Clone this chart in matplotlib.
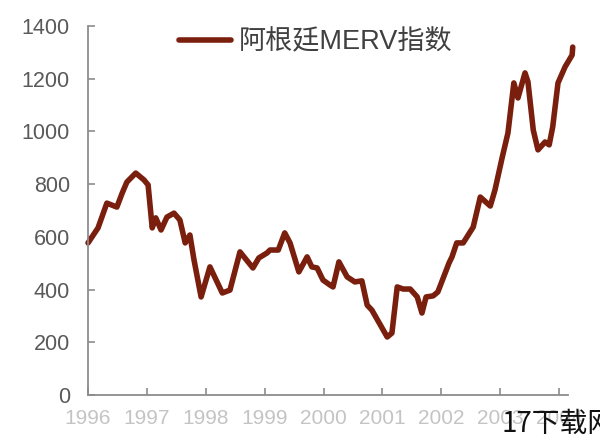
import matplotlib.pyplot as plt

plt.rcParams["font.family"] = ["Liberation Sans", "Noto Sans CJK SC", "DejaVu Sans"]

# ── Data ──────────────────────────────────────────────────────────────────────
years = [
    1996.00, 1996.17, 1996.32, 1996.49, 1996.58, 1996.66, 1996.81, 1996.95,
    1997.02, 1997.09, 1997.15, 1997.24, 1997.34, 1997.46, 1997.56, 1997.65,
    1997.73, 1997.80, 1997.92, 1998.07, 1998.28, 1998.41, 1998.58, 1998.80,
    1998.90, 1999.04, 1999.09, 1999.23, 1999.34, 1999.43, 1999.58, 1999.72,
    1999.80, 1999.89, 1999.99, 2000.11, 2000.16, 2000.26, 2000.40, 2000.53,
    2000.65, 2000.74, 2000.82, 2001.08, 2001.16, 2001.25, 2001.35, 2001.47,
    2001.59, 2001.67, 2001.74, 2001.86, 2001.94, 2002.13, 2002.18, 2002.26,
    2002.37, 2002.54, 2002.66, 2002.83, 2002.91, 2003.03, 2003.13, 2003.23,
    2003.30, 2003.42, 2003.47, 2003.56, 2003.64, 2003.76, 2003.83, 2003.89,
    2003.98, 2004.10, 2004.22, 2004.23,
]
merv = [
    577, 634, 728, 713, 766, 808, 842, 816,
    797, 634, 672, 626, 675, 690, 664, 577,
    607, 512, 372, 486, 387, 398, 543, 482,
    520, 539, 550, 550, 615, 577, 467, 524,
    486, 482, 436, 417, 410, 505, 448, 429,
    433, 341, 322, 220, 235, 410, 402, 402,
    372, 311, 372, 376, 391, 501, 524, 577,
    577, 637, 751, 717, 778, 899, 994, 1184,
    1127, 1222, 1188, 1005, 930, 960, 949, 1017,
    1184, 1245, 1290, 1320,
]
xticks = [1996, 1997, 1998, 1999, 2000, 2001, 2002, 2003, 2004]
yticks = [0, 200, 400, 600, 800, 1000, 1200, 1400]

LINE = "#7a1f0e"

fig = plt.figure(figsize=(6, 4.4), dpi=100)
ax = fig.add_axes([0.1467, 0.1023, 0.80, 0.8386])

ax.plot(years, merv, color=LINE, lw=4.0, solid_joinstyle="round",
        solid_capstyle="round", clip_on=False, label="阿根廷MERV指数")

ax.set_xlim(1996, 2004.15)
ax.set_ylim(0, 1400)
ax.set_xticks(xticks)
ax.set_yticks(yticks)
ax.set_xticklabels([str(t) for t in xticks])

for s in ["top", "right"]:
    ax.spines[s].set_visible(False)
for s in ["left", "bottom"]:
    ax.spines[s].set_color("#8c8c8c")
    ax.spines[s].set_linewidth(1.3)

ax.tick_params(axis="y", direction="in", length=5, width=1.2, color="#8c8c8c",
               labelsize=15.5, labelcolor="#595959", pad=13)
ax.tick_params(axis="x", direction="in", length=5, width=1.2, color="#8c8c8c",
               labelsize=15, labelcolor="#c4c4c4", pad=10)

ax.legend(loc="center", bbox_to_anchor=(0.475, 0.955), frameon=False,
          fontsize=19.5, handlelength=1.9, handletextpad=0.3,
          labelcolor="#404040")

# watermark in the lower right corner
fig.text(0.835, 0.018, "17下载网", fontsize=20, color="#111111",
         family=["Noto Sans CJK SC", "DejaVu Sans"], fontweight="light")

fig.savefig("out.png", dpi=100)
